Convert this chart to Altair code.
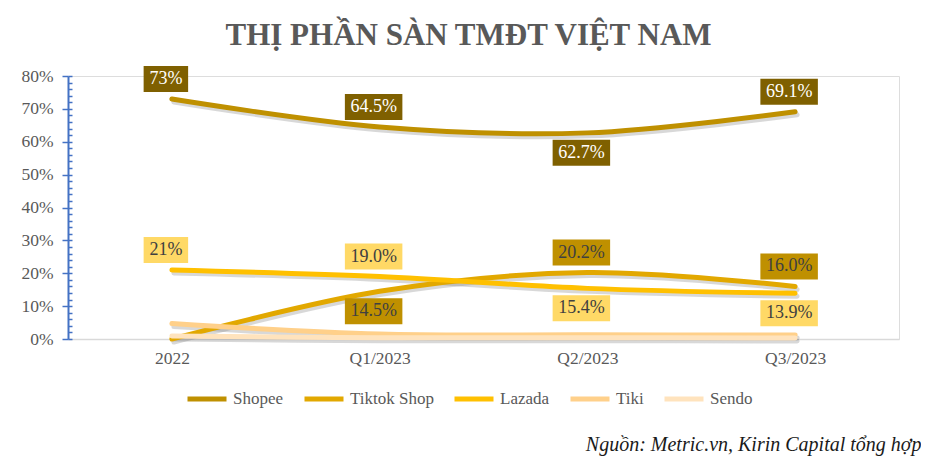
import altair as alt
import pandas as pd

periods = ["2022", "Q1/2023", "Q2/2023", "Q3/2023"]
series_names = ["Shopee", "Tiktok Shop", "Lazada", "Tiki", "Sendo"]
shopee = [0.73, 0.645, 0.627, 0.691]
tiktok = [0.0, 0.145, 0.202, 0.160]
lazada = [0.21, 0.190, 0.154, 0.139]
tiki = [0.047, 0.015, 0.013, 0.012]
sendo = [0.009, 0.004, 0.004, 0.003]
values_by_series = [shopee, tiktok, lazada, tiki, sendo]

line_colors = ["#bf9000", "#e2a800", "#ffc000", "#ffd08a", "#ffe3bd"]
box_series = ["Shopee", "Tiktok Shop", "Lazada"]
box_colors = ["#7f6000", "#bf9000", "#ffd966"]

# data-label placement (style): above / below / none
placement = {
    "Shopee": ["above", "above", "below", "above"],
    "Tiktok Shop": ["none", "below", "above", "above"],
    "Lazada": ["above", "above", "below", "below"],
    "Tiki": ["none", "none", "none", "none"],
    "Sendo": ["none", "none", "none", "none"],
}

title_text = "THỊ PHẦN SÀN TMĐT VIỆT NAM"
source_text = "Nguồn: Metric.vn, Kirin Capital tổng hợp"
major_ticks = [0.0, 0.1, 0.2, 0.3, 0.4, 0.5, 0.6, 0.7, 0.8]
minor_ticks = [i / 50 for i in range(41)]

rows = []
for name, vals in zip(series_names, values_by_series):
    for p, v, pl in zip(periods, vals, placement[name]):
        rows.append({"period": p, "series": name, "value": v, "place": pl})
df = pd.DataFrame(rows)

W, H = 831, 263
FONT = "Liberation Serif"

x_enc = alt.X(
    "period:N", sort=periods,
    scale=alt.Scale(type="point", padding=0.5),
    axis=alt.Axis(
        labelFont=FONT, labelFontSize=17.5, labelColor="#595959", labelAngle=0,
        labelPadding=10, ticks=False, domainColor="#d9d9d9", domainWidth=1.5,
        grid=False, title=source_text, titleFont=FONT, titleFontSize=20,
        titleFontStyle="italic", titleFontWeight="normal", titleColor="#1a1a1a",
        titleX=853, titleY=111, titleAlign="right", titleBaseline="alphabetic",
    ),
)
y_scale = alt.Scale(domain=[0, 0.8], nice=False)

base = alt.Chart(df)

shadow = base.mark_line(
    color="#7f7f7f", opacity=0.3, strokeWidth=5, interpolate="cardinal",
    strokeCap="round", xOffset=2, yOffset=3,
).encode(
    x=x_enc,
    y=alt.Y("value:Q", scale=y_scale, axis=alt.Axis(
        orient="left", values=major_ticks, format=".0%", labelFont=FONT,
        labelFontSize=17.5, labelColor="#595959", domainColor="#4472c4",
        domainWidth=2, tickColor="#4472c4", tickWidth=1.5, tickSize=6,
        labelPadding=9, grid=False, title=None)),
    detail="series:N",
)

lines = base.mark_line(
    strokeWidth=5, interpolate="cardinal", strokeCap="round",
).encode(
    x=x_enc,
    y=alt.Y("value:Q", scale=y_scale, axis=alt.Axis(
        orient="right", offset=-W, values=minor_ticks, labels=False,
        domain=False, tickColor="#4472c4", tickWidth=1.5, tickSize=4,
        grid=False, title=None)),
    color=alt.Color("series:N", scale=alt.Scale(domain=series_names, range=line_colors),
                    legend=alt.Legend(
                        title=None, orient="none", legendX=117, legendY=301,
                        direction="horizontal", symbolType="stroke", symbolSize=1521,
                        symbolStrokeWidth=5, labelFont=FONT, labelFontSize=17,
                        labelColor="#595959", labelOffset=4, columnPadding=10, padding=0)),
)

lab = base.transform_filter("datum.place != 'none'").transform_calculate(
    lbl="datum.period == '2022' ? format(datum.value, '.0%') : format(datum.value, '.1%')"
).transform_calculate(
    w="length(datum.lbl) * 6.5 + 25"
)

y_plain = alt.Y("value:Q", scale=y_scale, axis=None)


def boxes(where, off):
    return lab.transform_filter(f"datum.place == '{where}'").mark_tick(
        thickness=26, opacity=1, yOffset=off, xOffset=-6,
    ).encode(
        x=x_enc, y=y_plain,
        size=alt.Size("w:Q", scale=None, legend=None),
        fill=alt.Fill("series:N", scale=alt.Scale(domain=box_series, range=box_colors), legend=None),
    )


def texts(where, off):
    return lab.transform_filter(f"datum.place == '{where}'").mark_text(
        font=FONT, fontSize=18, baseline="middle", align="center", dy=off, dx=-6,
    ).encode(
        x=x_enc, y=y_plain, text="lbl:N",
        color=alt.condition("datum.series == 'Shopee'", alt.value("#ffffff"), alt.value("#404040")),
    )


chart = alt.layer(
    shadow, lines,
    boxes("above", -20), boxes("below", 20),
    texts("above", -20), texts("below", 20),
).resolve_axis(y="independent").properties(
    width=W, height=H,
    title=alt.TitleParams(title_text, font=FONT, fontSize=31, fontWeight="bold",
                          color="#595959", anchor="middle", frame="group", dx=-15, offset=14),
    autosize=alt.AutoSizeParams(type="none"),
    padding={"left": 60, "top": 68, "right": 22, "bottom": 117},
).configure_view(stroke=None).configure(background="white")

chart.save("out.html", embed_options={"renderer": "svg", "actions": False})
